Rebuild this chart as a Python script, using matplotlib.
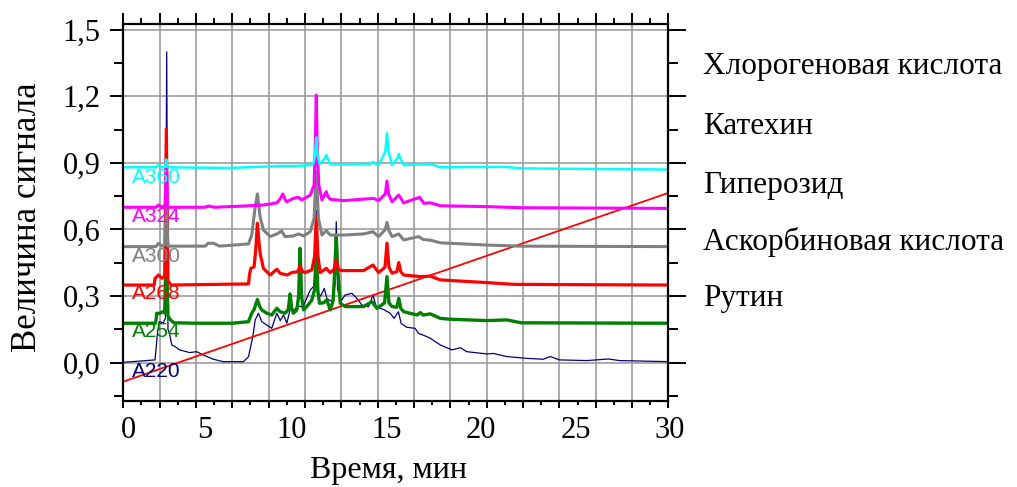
import matplotlib
matplotlib.use("Agg")
import matplotlib.pyplot as plt
from matplotlib.ticker import MultipleLocator, FixedLocator
from matplotlib.transforms import ScaledTranslation, blended_transform_factory

# ---------------- data (time, signal) ----------------
a220 = [(0, 0.002), (1.75, 0.013), (1.88, 0.134), (1.98, 0.185), (2.2, 0.18), (2.32, 0.2),
        (2.39, 1.40), (2.46, 0.15), (2.54, 0.133), (2.67, 0.08), (2.85, 0.073), (3.1, 0.058),
        (3.65, 0.046), (4.04, 0.05), (4.4, 0.035), (4.96, 0.016), (5.5, 0.005), (6.61, 0.005),
        (6.89, 0.027), (7.13, 0.118), (7.26, 0.193), (7.44, 0.223), (7.62, 0.185), (7.9, 0.17),
        (8.17, 0.155), (8.45, 0.223), (8.64, 0.19), (8.82, 0.215), (9.0, 0.178), (9.22, 0.253),
        (9.4, 0.235), (9.6, 0.258), (9.88, 0.25), (10.29, 0.328), (10.47, 0.343), (10.56, 0.40),
        (10.62, 0.688), (10.68, 0.40), (10.74, 0.315), (10.86, 0.30), (11.06, 0.335), (11.2, 0.29),
        (11.48, 0.275), (11.65, 0.35), (11.72, 0.635), (11.79, 0.33), (12.0, 0.28), (12.21, 0.305),
        (12.58, 0.313), (12.85, 0.29), (13.13, 0.26), (13.5, 0.252), (13.74, 0.305), (13.92, 0.252),
        (14.32, 0.24), (14.69, 0.223), (14.9, 0.2), (15.14, 0.23), (15.29, 0.177), (15.6, 0.16),
        (16.06, 0.155), (16.24, 0.133), (16.7, 0.118), (16.9, 0.11), (17.45, 0.08), (18.09, 0.058),
        (18.55, 0.068), (18.9, 0.05), (20.0, 0.04), (20.37, 0.042), (21.1, 0.028), (22.2, 0.02),
        (23.1, 0.016), (23.5, 0.028), (24.0, 0.013), (25.5, 0.01), (26.7, 0.017), (27.3, 0.01),
        (30.0, 0.005)]

a254 = [(0, 0.178), (1.78, 0.178), (1.84, 0.223), (2.0, 0.222), (2.17, 0.23), (2.28, 0.225),
        (2.37, 0.55), (2.46, 0.21), (2.6, 0.193), (2.78, 0.18), (4.0, 0.178), (6.0, 0.178),
        (6.89, 0.185), (7.07, 0.223), (7.2, 0.24), (7.38, 0.285), (7.5, 0.255), (7.62, 0.238),
        (7.9, 0.223), (8.17, 0.215), (8.45, 0.245), (8.63, 0.23), (8.9, 0.223), (9.08, 0.24),
        (9.18, 0.31), (9.27, 0.245), (9.36, 0.223), (9.55, 0.238), (9.65, 0.30), (9.73, 0.515),
        (9.81, 0.30), (9.92, 0.238), (10.1, 0.253), (10.38, 0.283), (10.53, 0.33), (10.62, 0.52),
        (10.71, 0.32), (10.8, 0.268), (11.02, 0.27), (11.2, 0.283), (11.39, 0.238), (11.55, 0.28),
        (11.64, 0.42), (11.72, 0.575), (11.8, 0.42), (11.94, 0.268), (12.21, 0.253), (13.22, 0.253),
        (13.68, 0.275), (13.96, 0.245), (14.38, 0.27), (14.51, 0.388), (14.62, 0.27), (14.79, 0.253),
        (15.05, 0.25), (15.16, 0.29), (15.27, 0.245), (15.43, 0.23), (16.17, 0.215), (16.35, 0.226),
        (16.5, 0.215), (16.9, 0.22), (17.45, 0.2), (18.0, 0.196), (20.0, 0.19), (21.1, 0.193),
        (21.9, 0.18), (30.0, 0.178)]

a268 = [(0, 0.35), (1.7, 0.35), (1.75, 0.38), (1.94, 0.395), (2.13, 0.38), (2.28, 0.39),
        (2.37, 1.052), (2.46, 0.37), (2.62, 0.35), (6.89, 0.355), (6.95, 0.40), (7.02, 0.425),
        (7.2, 0.432), (7.3, 0.52), (7.38, 0.628), (7.46, 0.55), (7.53, 0.493), (7.71, 0.425),
        (8.08, 0.395), (8.45, 0.421), (8.63, 0.403), (9.0, 0.395), (9.27, 0.406), (9.6, 0.41),
        (9.73, 0.436), (9.86, 0.41), (10.0, 0.406), (10.38, 0.418), (10.53, 0.48), (10.62, 0.66),
        (10.71, 0.48), (10.84, 0.406), (11.17, 0.425), (11.39, 0.406), (11.6, 0.42), (11.72, 0.463),
        (11.84, 0.42), (12.03, 0.415), (13.22, 0.415), (13.74, 0.44), (14.05, 0.406), (14.4, 0.43),
        (14.51, 0.538), (14.62, 0.43), (14.79, 0.403), (15.05, 0.41), (15.16, 0.451), (15.27, 0.41),
        (15.43, 0.395), (16.35, 0.388), (16.9, 0.39), (17.45, 0.373), (20.0, 0.361), (21.5, 0.353),
        (30.0, 0.35)]

a300 = [(0, 0.523), (1.8, 0.523), (1.94, 0.538), (2.13, 0.525), (2.28, 0.53), (2.37, 0.69),
        (2.46, 0.525), (4.5, 0.525), (4.68, 0.538), (4.96, 0.538), (5.3, 0.525), (6.89, 0.535),
        (7.07, 0.575), (7.25, 0.695), (7.38, 0.76), (7.53, 0.658), (7.71, 0.598), (8.08, 0.568),
        (8.45, 0.58), (8.72, 0.593), (8.9, 0.568), (9.36, 0.571), (9.64, 0.58), (9.92, 0.571),
        (10.29, 0.59), (10.5, 0.65), (10.62, 0.86), (10.74, 0.65), (10.93, 0.575), (11.17, 0.595),
        (11.39, 0.575), (12.12, 0.575), (13.22, 0.58), (13.74, 0.59), (14.05, 0.568), (14.42, 0.60),
        (14.51, 0.632), (14.62, 0.595), (14.79, 0.568), (15.16, 0.58), (15.43, 0.553), (16.26, 0.568),
        (16.5, 0.555), (16.9, 0.552), (17.45, 0.54), (20.0, 0.53), (21.9, 0.525), (30.0, 0.523)]

a324 = [(0, 0.70), (1.8, 0.70), (1.94, 0.71), (2.13, 0.70), (2.3, 0.71), (2.37, 0.90),
        (2.44, 0.70), (4.5, 0.70), (4.7, 0.706), (5.0, 0.70), (5.88, 0.703), (7.71, 0.71),
        (8.45, 0.72), (8.65, 0.74), (8.78, 0.76), (8.9, 0.735), (9.0, 0.725), (9.36, 0.74),
        (9.64, 0.745), (9.82, 0.733), (10.29, 0.755), (10.5, 0.80), (10.56, 0.95), (10.62, 1.205),
        (10.68, 0.95), (10.76, 0.80), (10.93, 0.733), (11.1, 0.76), (11.17, 0.77), (11.25, 0.75),
        (11.39, 0.736), (12.12, 0.73), (13.77, 0.74), (14.05, 0.73), (14.42, 0.76), (14.51, 0.818),
        (14.6, 0.76), (14.79, 0.725), (15.16, 0.755), (15.43, 0.72), (16.31, 0.745), (16.53, 0.718),
        (16.9, 0.72), (17.45, 0.707), (20.0, 0.703), (21.9, 0.698), (30.0, 0.695)]

a360 = [(0, 0.88), (1.8, 0.88), (1.94, 0.89), (2.13, 0.88), (2.3, 0.882), (2.37, 0.915),
        (2.44, 0.88), (5.88, 0.877), (8.63, 0.886), (9.55, 0.886), (10.29, 0.89), (10.47, 0.898),
        (10.56, 0.94), (10.62, 1.015), (10.68, 0.94), (10.8, 0.895), (11.1, 0.92), (11.17, 0.935),
        (11.25, 0.92), (11.39, 0.893), (13.6, 0.895), (13.77, 0.905), (13.9, 0.893), (14.05, 0.89),
        (14.42, 0.95), (14.51, 1.033), (14.6, 0.95), (14.79, 0.89), (15.08, 0.92), (15.16, 0.94),
        (15.25, 0.92), (15.43, 0.89), (16.9, 0.895), (17.45, 0.88), (21.0, 0.882), (21.9, 0.875),
        (30.0, 0.87)]

gradient = [(0, -0.085), (30, 0.765)]

trace_names = ["A220", "A254", "A268", "A300", "A324", "A360"]
trace_data = [a220, a254, a268, a300, a324, a360]
trace_colors = ["#000080", "#008000", "#ff0000", "#808080", "#ff00ff", "#00ffff"]
trace_widths = [0.9, 2.4, 2.3, 2.2, 2.2, 1.8]
label_y = [-0.041, 0.139, 0.314, 0.48, 0.66, 0.836]

compounds = ["Хлорогеновая кислота", "Катехин", "Гиперозид", "Аскорбиновая кислота", "Рутин"]
compound_y = [1.333, 1.063, 0.80, 0.545, 0.29]

x_ticks = [0, 5, 10, 15, 20, 25, 30]
y_ticks = [0.0, 0.3, 0.6, 0.9, 1.2, 1.5]
y_minor = [-0.15, 0.15, 0.45, 0.75, 1.05, 1.35]
y_tick_labels = ["0,0", "0,3", "0,6", "0,9", "1,2", "1,5"]
x_label_shift_px = [5, -9, -13, -9, -6, -2, 1]

# ---------------- figure ----------------
serif = "Liberation Serif"
fig = plt.figure(figsize=(10.17, 4.87), dpi=100)
ax = fig.add_axes([0.1212, 0.1766, 0.5361, 0.7741])
ax.set_xlim(0, 30)
ax.set_ylim(-0.172, 1.525)

# grid
for gx in range(2, 30, 2):
    ax.axvline(gx, color="#9c9c9c", lw=1.2, zorder=0)
for gy in y_ticks:
    ax.axhline(gy, color="#9c9c9c", lw=1.2, zorder=0)

# traces
def xy(d):
    return [p[0] for p in d], [p[1] for p in d]

t, v = xy(a220)
ax.plot(t, v, color=trace_colors[0], lw=trace_widths[0], zorder=2)
gt, gv = xy(gradient)
ax.plot(gt, gv, color="#ff0000", lw=1.3, zorder=2.5)
for i in range(1, 6):
    t, v = xy(trace_data[i])
    ax.plot(t, v, color=trace_colors[i], lw=trace_widths[i], zorder=3 + i,
            solid_joinstyle="round")

for name, col, ly in zip(trace_names, trace_colors, label_y):
    ax.text(0.5, ly, name, color=col, fontsize=15, family="Liberation Sans",
            ha="left", va="center", zorder=10)

# right-side compound labels
tr = blended_transform_factory(ax.transAxes, ax.transData)
for name, cy in zip(compounds, compound_y):
    ax.text(1.064, cy, name, transform=tr, fontsize=22.5, family=serif,
            ha="left", va="center", clip_on=False)

# spines
for s in ax.spines.values():
    s.set_linewidth(1.6)
    s.set_color("black")
    s.set_zorder(20)

# ticks - bottom/left
ax.xaxis.set_major_locator(MultipleLocator(2))
ax.xaxis.set_minor_locator(MultipleLocator(1))
ax.set_xticklabels([])
ax.yaxis.set_major_locator(FixedLocator(y_ticks))
ax.yaxis.set_minor_locator(FixedLocator(y_minor))
ax.set_yticklabels(y_tick_labels, fontsize=22, family=serif)
ax.tick_params(axis="x", which="major", direction="out", length=5, width=1.4, labelbottom=False)
ax.tick_params(axis="x", which="minor", direction="out", length=3.2, width=1.4)
ax.tick_params(axis="y", which="major", direction="out", length=9.5, width=1.4, pad=7)
ax.tick_params(axis="y", which="minor", direction="out", length=6.5, width=1.4)

# x tick labels as text at the tick values (with small shifts like the original)
xtr = blended_transform_factory(ax.transData, ax.transAxes)
for xv, sh in zip(x_ticks, x_label_shift_px):
    off = ScaledTranslation(sh / 100.0, 0, fig.dpi_scale_trans)
    ax.text(xv, -0.04, str(xv), transform=xtr + off,
            fontsize=22, family=serif, ha="center", va="top", clip_on=False)

# top ticks
axt = ax.twiny()
axt.set_xlim(ax.get_xlim())
axt.xaxis.set_major_locator(MultipleLocator(2))
axt.xaxis.set_minor_locator(MultipleLocator(1))
axt.tick_params(axis="x", which="major", direction="out", length=8, width=1.4, labeltop=False)
axt.tick_params(axis="x", which="minor", direction="out", length=4.3, width=1.4)
for s in axt.spines.values():
    s.set_visible(False)

# right ticks
axr = ax.twinx()
axr.set_ylim(ax.get_ylim())
axr.yaxis.set_major_locator(FixedLocator(y_ticks))
axr.yaxis.set_minor_locator(FixedLocator(y_minor))
axr.tick_params(axis="y", which="major", direction="out", length=13, width=1.4, labelright=False)
axr.tick_params(axis="y", which="minor", direction="out", length=7, width=1.4)
for s in axr.spines.values():
    s.set_visible(False)

ax.set_xlabel("Время, мин", fontsize=23, family=serif)
ax.xaxis.set_label_coords(0.487, -0.145)
ax.set_ylabel("Величина сигнала", fontsize=25, family=serif)
ax.yaxis.set_label_coords(-0.146, 0.488)

fig.savefig("out.png", dpi=100)
